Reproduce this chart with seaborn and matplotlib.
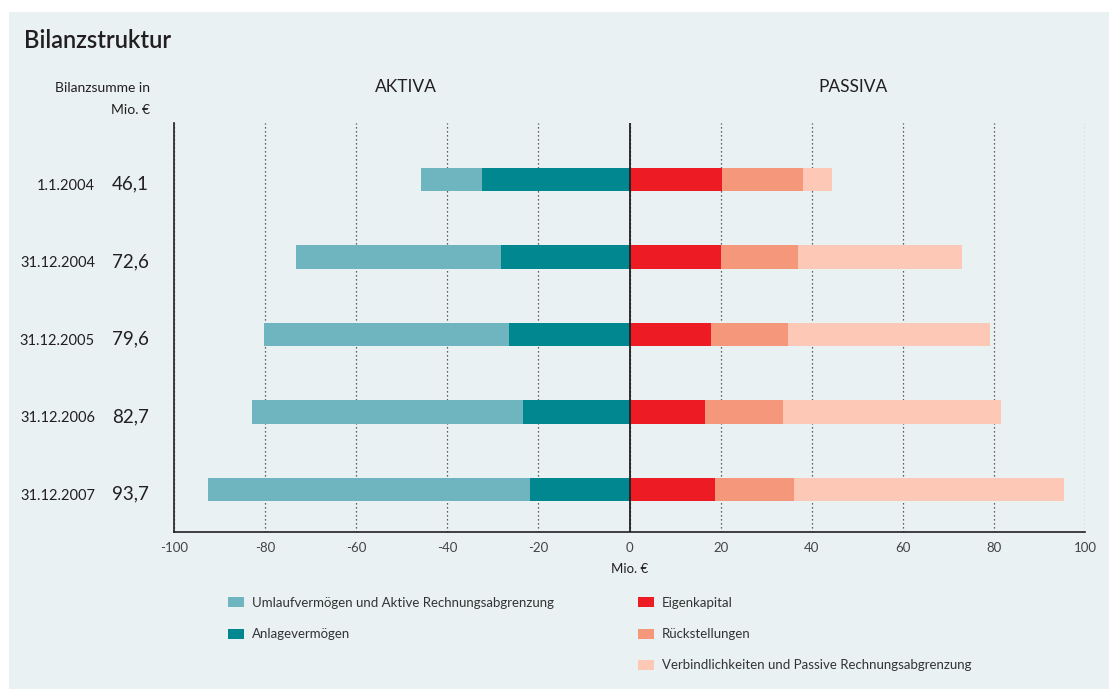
import numpy as np
import pandas as pd
import matplotlib.pyplot as plt
import seaborn as sns
from matplotlib.patches import Patch, Rectangle
from matplotlib.transforms import blended_transform_factory

# Werte in Mio. EUR
dates = ["1.1.2004", "31.12.2004", "31.12.2005", "31.12.2006", "31.12.2007"]
totals = ["46,1", "72,6", "79,6", "82,7", "93,7"]
umlauf = [13.3, 45.0, 53.8, 59.4, 70.7]
anlage = [32.4, 28.2, 26.4, 23.4, 21.8]
eigen = [20.3, 20.1, 17.9, 16.6, 18.8]
rueck = [17.8, 16.9, 16.9, 17.1, 17.3]
verb = [6.3, 35.9, 44.3, 47.8, 59.2]

labels = ["Umlaufvermögen und Aktive Rechnungsabgrenzung", "Anlagevermögen",
          "Eigenkapital", "Rückstellungen", "Verbindlichkeiten und Passive Rechnungsabgrenzung"]
colors = ["#6eb5bf", "#00878f", "#ed1c24", "#f5977a", "#fdc8b5"]
bg = "#e9f1f3"
dark = "#231f20"

df = pd.DataFrame({"datum": dates, "umlauf": umlauf, "anlage": anlage,
                   "eigen": eigen, "rueck": rueck, "verb": verb})
# gestapelt: laengster Balken zuerst, dann darueber
df["akt_total"] = -(df["umlauf"] + df["anlage"])
df["akt_anl"] = -df["anlage"]
df["pas_total"] = df["eigen"] + df["rueck"] + df["verb"]
df["pas_er"] = df["eigen"] + df["rueck"]
df["pas_e"] = df["eigen"]

sns.set_theme(style="white")
plt.rcParams["font.family"] = ["Lato", "DejaVu Sans"]
plt.rcParams["axes.unicode_minus"] = False

fig = plt.figure(figsize=(11.09, 6.89), dpi=100, facecolor="white")
fig.patches.append(Rectangle((9 / 1109, 0), 1 - 9 / 1109, 1 - 12 / 689,
                             transform=fig.transFigure, facecolor=bg, edgecolor="none", zorder=-10))
ax = fig.add_axes([174 / 1109, 1 - 532 / 689, (1085 - 174) / 1109, (532 - 123) / 689])
ax.set_facecolor(bg)

for col, c in [("akt_total", colors[0]), ("akt_anl", colors[1]),
               ("pas_total", colors[4]), ("pas_er", colors[3]), ("pas_e", colors[2])]:
    sns.barplot(data=df, x=col, y="datum", orient="h", color=c, width=0.3,
                saturation=1, linewidth=0, ax=ax, zorder=3)

ax.set_xlim(-100, 100)
ax.set_ylim(4.55, -0.73)
ax.set_xticks(range(-100, 101, 20))
ax.set_xticklabels([str(v) for v in range(-100, 101, 20)])
ax.set_yticks([])
ax.set_ylabel("")
ax.set_axisbelow(True)
ax.xaxis.grid(True, linestyle=(0, (1, 2.2)), color="#333333", linewidth=0.9)
ax.axvline(0, color=dark, linewidth=1.3, zorder=5)
for s in ["top", "right"]:
    ax.spines[s].set_visible(False)
for s in ["left", "bottom"]:
    ax.spines[s].set_color(dark)
    ax.spines[s].set_linewidth(1.2)
ax.tick_params(axis="x", direction="inout", length=6, width=0.8, color=dark,
               labelsize=9.5, labelcolor="#444444", pad=4.5)
ax.set_xlabel("Mio. €", fontsize=9.5, color=dark, labelpad=6.5)

# Beschriftung links
tr = blended_transform_factory(fig.transFigure, ax.transData)
for i, (d, t) in enumerate(zip(dates, totals)):
    ax.text(95 / 1109, i + 0.08, d, transform=tr, ha="right", va="center", fontsize=10.5, color=dark)
    ax.text(149 / 1109, i + 0.06, t, transform=tr, ha="right", va="center", fontsize=13.5, color=dark)

fig.text(24 / 1109, 1 - 40 / 689, "Bilanzstruktur", fontsize=17, fontweight="semibold",
         ha="left", va="center", color=dark)
fig.text(150 / 1109, 1 - 88 / 689, "Bilanzsumme in", fontsize=10, ha="right", va="center", color=dark)
fig.text(150 / 1109, 1 - 110 / 689, "Mio. €", fontsize=10, ha="right", va="center", color=dark)

tr2 = blended_transform_factory(ax.transData, fig.transFigure)
ax.text(-49, 1 - 87 / 689, "AKTIVA", transform=tr2, ha="center", va="center", fontsize=12.5, color=dark)
ax.text(49, 1 - 87 / 689, "PASSIVA", transform=tr2, ha="center", va="center", fontsize=12.5, color=dark)

# Legende in zwei Spalten
h = [Patch(facecolor=c, edgecolor="none") for c in colors]
leg_kw = dict(frameon=False, fontsize=9.5, handlelength=1.2, handleheight=0.8,
              handletextpad=0.6, labelspacing=1.45, borderpad=0, borderaxespad=0,
              loc="upper left", labelcolor="#333333")
fig.legend(h[:2], labels[:2], bbox_to_anchor=(228 / 1109, 1 - 597 / 689), **leg_kw)
fig.legend(h[2:], labels[2:], bbox_to_anchor=(638 / 1109, 1 - 597 / 689), **leg_kw)

fig.savefig("out.png", dpi=100, facecolor="white")
